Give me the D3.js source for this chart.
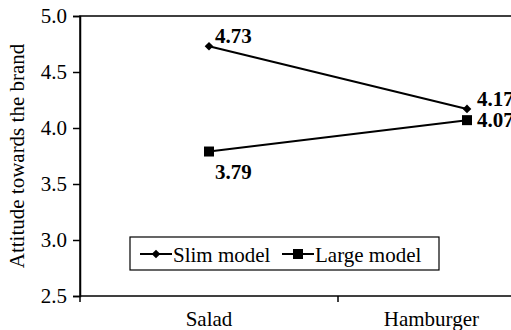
<!DOCTYPE html>
<html><head><meta charset="utf-8">
<script src="https://cdn.jsdelivr.net/npm/d3@7/dist/d3.min.js"></script>
<style>body{margin:0;background:#fff}svg{display:block}text{font-family:"Liberation Serif","Times New Roman",serif;fill:#000}</style>
</head><body>
<script>
const categories = ["Salad", "Hamburger"];
const slimModel = [4.73, 4.17];
const largeModel = [3.79, 4.07];
const yTicks = [2.5, 3.0, 3.5, 4.0, 4.5, 5.0];
const seriesNames = ["Slim model", "Large model"];

const W = 511, H = 330, FS = 21;
const m = {l: 80, t: 16, r: -85, b: 34};
const svg = d3.select("body").append("svg").attr("width", W).attr("height", H)
  .style("overflow", "hidden").style("font-family", '"Liberation Serif", serif');
const pw = W - m.l - m.r, ph = H - m.t - m.b;
const x = d3.scaleBand().domain(categories).range([m.l, m.l + pw]);
const y = d3.scaleLinear().domain([2.5, 5.0]).range([m.t + ph, m.t]);

// frame
svg.append("rect").attr("x", m.l).attr("y", m.t).attr("width", pw).attr("height", ph)
  .attr("fill", "none").attr("stroke", "#000").attr("stroke-width", 1.5);

// y axis
const ya = svg.append("g").attr("transform", `translate(${m.l},0)`)
  .call(d3.axisLeft(y).tickValues(yTicks).tickFormat(d3.format(".1f")).tickSize(7).tickPadding(6));
ya.attr("font-family", null);
ya.select(".domain").attr("stroke-width", 1.5);
ya.selectAll("line").attr("stroke-width", 1.5);
ya.selectAll("text").attr("font-size", FS).style("font-family", '"Liberation Serif", serif');

// x axis ticks at band boundaries
const bounds = [m.l, m.l + x.bandwidth(), m.l + 2 * x.bandwidth()];
svg.append("g").selectAll("line").data(bounds).join("line")
  .attr("x1", d => d).attr("x2", d => d).attr("y1", m.t + ph).attr("y2", m.t + ph + 6)
  .attr("stroke", "#000").attr("stroke-width", 1.5);
const catText = svg.append("g").selectAll("text").data(categories).join("text")
  .attr("x", d => x(d) + x.bandwidth() / 2).attr("y", m.t + ph + 30)
  .attr("text-anchor", "middle").attr("font-size", FS).text(d => d);
// keep labels inside the visible area
catText.each(function(d) {
  const w = this.getComputedTextLength();
  const cxv = x(d) + x.bandwidth() / 2;
  if (cxv + w / 2 > W - 32) d3.select(this).attr("x", W - 32 - w / 2);
});

// y title
svg.append("text").attr("transform", `translate(24,${m.t + ph / 2}) rotate(-90)`)
  .attr("text-anchor", "middle").attr("font-size", FS).text("Attitude towards the brand");

const cx = d => x(d) + x.bandwidth() / 2;
const line = d3.line().x(d => cx(d.c)).y(d => y(d.v));
const slim = categories.map((c, i) => ({c, v: slimModel[i]}));
const large = categories.map((c, i) => ({c, v: largeModel[i]}));

[slim, large].forEach(s => svg.append("path").attr("d", line(s)).attr("fill", "none").attr("stroke", "#000").attr("stroke-width", 2));

const diamond = d3.symbol().type(d3.symbolDiamond2).size(48);
const square = d3.symbol().type(d3.symbolSquare).size(100);
svg.append("g").selectAll("path").data(slim).join("path")
  .attr("transform", d => `translate(${cx(d.c)},${y(d.v)})`).attr("d", diamond).attr("fill", "#000");
svg.append("g").selectAll("path").data(large).join("path")
  .attr("transform", d => `translate(${cx(d.c)},${y(d.v)})`).attr("d", square).attr("fill", "#000");

// data labels
const lblOff = {slim: [[6, -3], [10, -3]], large: [[6, 27], [10, 7]]};
function labels(data, offs) {
  svg.append("g").selectAll("text").data(data).join("text")
    .attr("x", (d, i) => cx(d.c) + offs[i][0]).attr("y", (d, i) => y(d.v) + offs[i][1])
    .attr("font-size", FS).attr("font-weight", "bold").text(d => d3.format(".2f")(d.v));
}
labels(slim, lblOff.slim);
labels(large, lblOff.large);

// legend
const lg = svg.append("g").attr("transform", "translate(130,237)");
lg.append("rect").attr("width", 309).attr("height", 33).attr("fill", "#fff").attr("stroke", "#000").attr("stroke-width", 1.2);
const items = [{n: seriesNames[0], sym: diamond, x0: 10}, {n: seriesNames[1], sym: square, x0: 152}];
const li = lg.selectAll("g").data(items).join("g").attr("transform", d => `translate(${d.x0},17)`);
li.append("line").attr("x1", 0).attr("x2", 32).attr("stroke", "#000").attr("stroke-width", 2);
li.append("path").attr("transform", "translate(16,0)").attr("d", d => d.sym()).attr("fill", "#000");
li.append("text").attr("x", 33).attr("y", 8).attr("font-size", FS).text(d => d.n);
</script>
</body></html>
